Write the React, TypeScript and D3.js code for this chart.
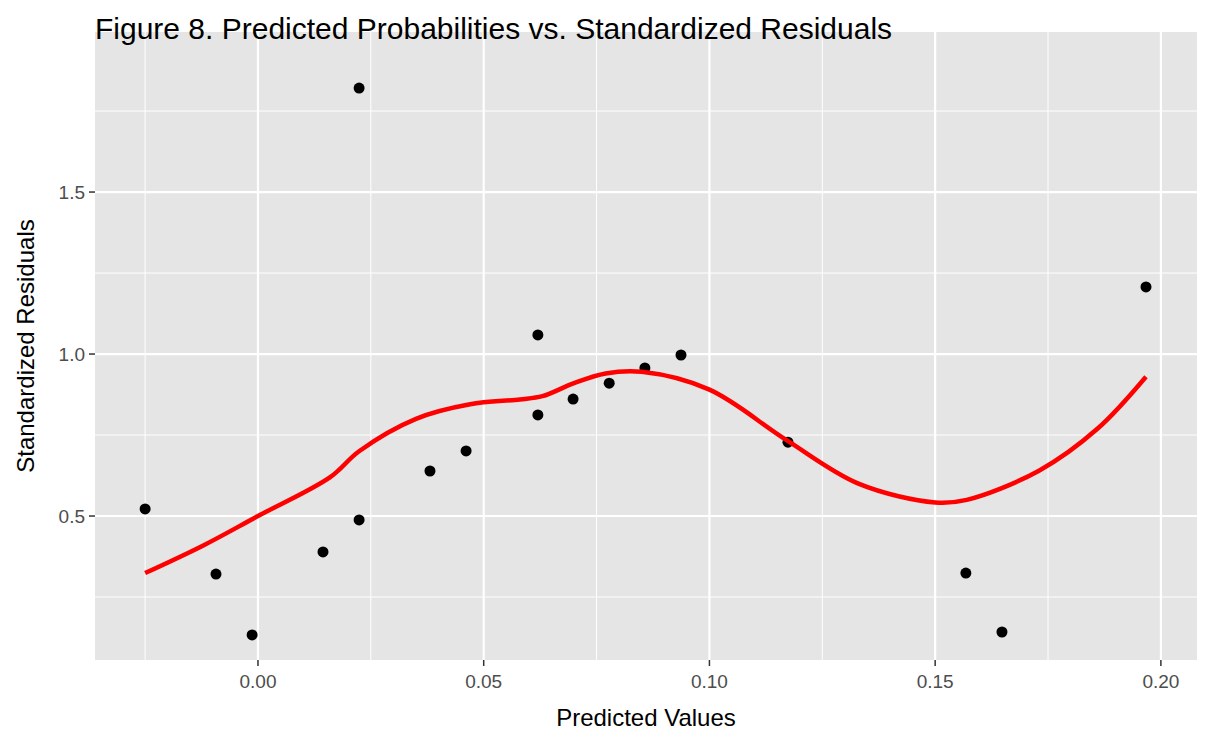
import * as d3 from "d3";
import { useEffect } from "react";

const predX = [-0.025, -0.0093, -0.0013, 0.0144, 0.0224, 0.0224, 0.0381, 0.0461, 0.062, 0.062, 0.0698, 0.0778, 0.0857, 0.0937, 0.1174, 0.1568, 0.1648, 0.1967];
const residY = [0.522, 0.321, 0.133, 0.389, 1.821, 0.488, 0.639, 0.701, 1.059, 0.812, 0.861, 0.91, 0.957, 0.997, 0.728, 0.324, 0.142, 1.207];

// smoothed fit
const fitX = [-0.025, -0.012, 0.0, 0.016, 0.0224, 0.035, 0.047, 0.058, 0.063, 0.07, 0.077, 0.085, 0.1, 0.117, 0.133, 0.15, 0.157, 0.173, 0.186, 0.1967];
const fitY = [0.324, 0.41, 0.5, 0.62, 0.7, 0.8, 0.845, 0.86, 0.87, 0.91, 0.94, 0.945, 0.89, 0.735, 0.6, 0.542, 0.55, 0.64, 0.77, 0.93];

const xTicks = [0, 0.05, 0.1, 0.15, 0.2];
const yTicks = [0.5, 1.0, 1.5];

const W = 1210, H = 747;
const M = { left: 95, right: 13, top: 32, bottom: 87 };

export default function App() {
  useEffect(() => {
    document.body.style.margin = "0";
  }, []);

  const x = d3.scaleLinear().domain([-0.0361, 0.208]).range([M.left, W - M.right]);
  const y = d3.scaleLinear().domain([0.0556, 1.994]).range([H - M.bottom, M.top]);
  const line = d3.line<number>().x((_, i) => x(fitX[i])).y((d) => y(d)).curve(d3.curveCatmullRom);
  const xMinor = [-0.025, 0.025, 0.075, 0.125, 0.175];
  const yMinor = [0.25, 0.75, 1.25, 1.75];
  const font = "'Liberation Sans', Arial, sans-serif";

  return (
    <svg width={W} height={H} style={{ display: "block", fontFamily: font }}>
      <rect width={W} height={H} fill="#fff" />
      <rect x={M.left} y={M.top} width={W - M.left - M.right} height={H - M.top - M.bottom} fill="#e5e5e5" />
      {xMinor.map((t) => (
        <line key={"xm" + t} x1={x(t)} x2={x(t)} y1={M.top} y2={H - M.bottom} stroke="#fff" strokeWidth={1} />
      ))}
      {yMinor.map((t) => (
        <line key={"ym" + t} x1={M.left} x2={W - M.right} y1={y(t)} y2={y(t)} stroke="#fff" strokeWidth={1} />
      ))}
      {xTicks.map((t) => (
        <g key={"x" + t}>
          <line x1={x(t)} x2={x(t)} y1={M.top} y2={H - M.bottom} stroke="#fff" strokeWidth={2.2} />
          <line x1={x(t)} x2={x(t)} y1={H - M.bottom} y2={H - M.bottom + 6} stroke="#333" strokeWidth={1.5} />
          <text x={x(t)} y={H - M.bottom + 28} textAnchor="middle" fontSize={19} fill="#4d4d4d">{t.toFixed(2)}</text>
        </g>
      ))}
      {yTicks.map((t) => (
        <g key={"y" + t}>
          <line x1={M.left} x2={W - M.right} y1={y(t)} y2={y(t)} stroke="#fff" strokeWidth={2.2} />
          <line x1={M.left - 6} x2={M.left} y1={y(t)} y2={y(t)} stroke="#333" strokeWidth={1.5} />
          <text x={M.left - 10} y={y(t) + 7} textAnchor="end" fontSize={19} fill="#4d4d4d">{t.toFixed(1)}</text>
        </g>
      ))}
      {predX.map((v, i) => (
        <circle key={i} cx={x(v)} cy={y(residY[i])} r={5.5} fill="#000" />
      ))}
      <path d={line(fitY) ?? ""} fill="none" stroke="#ff0000" strokeWidth={4.5} />
      <text x={(M.left + W - M.right) / 2} y={726} textAnchor="middle" fontSize={24} fill="#000">Predicted Values</text>
      <text transform={`translate(34,${(M.top + H - M.bottom) / 2}) rotate(-90)`} textAnchor="middle" fontSize={24} fill="#000">Standardized Residuals</text>
      <text x={95} y={39} fontSize={30} fill="#000">Figure 8. Predicted Probabilities vs. Standardized Residuals</text>
    </svg>
  );
}
